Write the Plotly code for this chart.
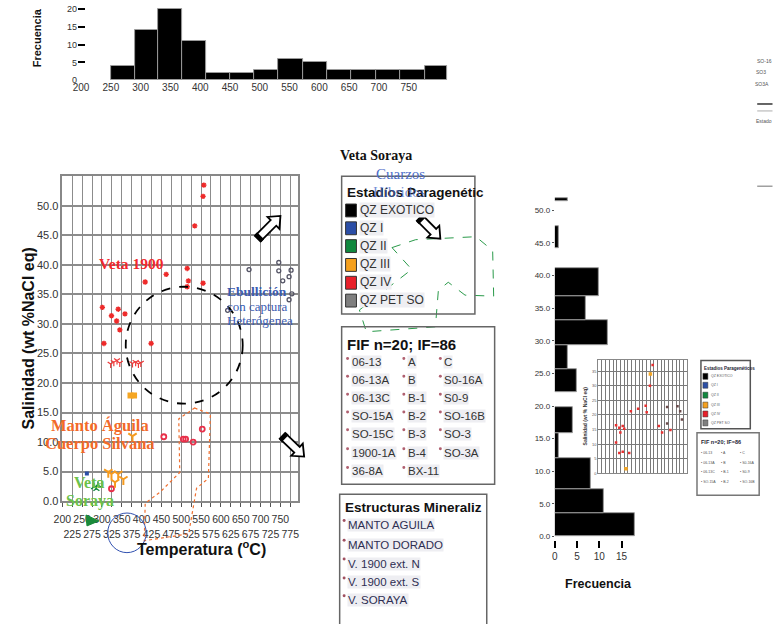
import math
import plotly.graph_objects as go

W, H = 774, 624


def px(x):
    return x / W


def py(y):
    return 1 - y / H


# ---------------- data ----------------
# top histogram (temperature)
temp_bin_edges = [250, 290, 330, 370, 410, 450, 490, 531, 572, 613, 654, 695, 736, 777, 815]
temp_freq = [4, 14, 20, 11, 2, 2, 3, 6, 5, 3, 3, 3, 3, 4]
temp_ticks = [200, 250, 300, 350, 400, 450, 500, 550, 600, 650, 700, 750]
freq_ticks_top = [0, 5, 10, 15, 20]

# right histogram (salinity)
sal_bin_lo = [0.0, 3.6, 7.3, 12.0, 15.9, 22.1, 25.7, 29.4, 33.2, 36.9, 44.2, 51.4]
sal_bin_hi = [3.6, 7.3, 12.0, 15.9, 19.8, 25.6, 29.4, 33.2, 36.9, 41.2, 47.6, 51.8]
sal_freq = [18, 11, 8, 1, 4, 5, 3, 12, 7, 10, 1, 3]
sal_ticks = [0, 5, 10, 15, 20, 25, 30, 35, 40, 45, 50]
freq_ticks_right = [0, 5, 10, 15]

# main scatter: temperature (C) vs salinity (wt% NaCl eq)
main_ticks_row1 = [200, 250, 300, 350, 400, 450, 500, 550, 600, 650, 700, 750]
main_ticks_row2 = [225, 275, 325, 375, 425, 475, 525, 575, 625, 675, 725, 775]

qz4_t = [557, 555, 534, 462, 515, 518, 515, 555, 409, 301, 341, 324, 358, 337, 345, 305, 424]
qz4_s = [53.5, 51.6, 46.6, 38.4, 39.4, 37.3, 36.3, 36.9, 37.1, 32.8, 32.5, 31.4, 31.7, 30.5, 29.0, 26.7, 26.7]
qz4y_t = [322, 330, 338, 345, 377, 385, 392, 398]
qz4y_s = [23.2, 23.5, 23.8, 23.4, 23.3, 23.5, 23.2, 23.4]
qz4c_t = [456, 505, 511, 530, 553, 324]
qz4c_s = [10.9, 10.5, 10.5, 10.0, 12.2, 2.1]
qz3sq_t = [372, 381]
qz3sq_s = [17.9, 17.9]
qz3_t = [377, 316, 324, 341, 333, 354]
qz3_s = [11.0, 4.9, 4.6, 4.6, 3.2, 3.7]
qz1_t = [262]
qz1_s = [4.7]
qz2_t = [280, 290, 286]
qz2_s = [2.4, 2.7, 2.1]
qzpet_t = [671, 746, 746, 777, 756, 772, 779, 772, 617]
qzpet_s = [39.2, 40.4, 39.0, 39.1, 37.3, 38.0, 35.1, 34.1, 32.3]

# small inset copy
inset_red_t = [320, 342, 365, 349, 375, 320, 342, 365, 409, 420, 469, 520, 527, 549, 567, 609, 631, 687]
inset_red_s = [16.5, 15.6, 16.2, 14.0, 15.3, 10.6, 7.0, 7.4, 7.0, 21.3, 22.1, 23.2, 20.9, 30.0, 37.1, 16.2, 14.0, 14.9]
inset_dark_t = [665, 735, 753, 765, 665]
inset_dark_s = [22.7, 23.0, 21.3, 18.5, 17.1]
inset_orange_t = [387, 552]
inset_orange_s = [1.6, 34.0]

stage_labels = ["QZ EXOTICO", "QZ I", "QZ II", "QZ III", "QZ IV", "QZ PET SO"]
stage_colors = ["#000000", "#2b4ea6", "#10883e", "#f5a01e", "#e8202a", "#7f7f7f"]
fif_col1 = ["06-13", "06-13A", "06-13C", "SO-15A", "SO-15C", "1900-1A", "36-8A"]
fif_col2 = ["A", "B", "B-1", "B-2", "B-3", "B-4", "BX-11"]
fif_col3 = ["C", "S0-16A", "S0-9", "SO-16B", "SO-3", "SO-3A"]
struct_labels = ["MANTO AGUILA", "MANTO DORADO", "V. 1900 ext. N", "V. 1900 ext. S", "V. SORAYA"]

SANS = "Liberation Sans, Arial, sans-serif"
NARROW = "Liberation Sans Narrow, Arial Narrow, Liberation Sans, sans-serif"
SERIF = "Liberation Serif, Times New Roman, serif"

fig = go.Figure()

# ---------------- traces ----------------
fig.add_trace(go.Bar(
    x=[(temp_bin_edges[i] + temp_bin_edges[i + 1]) / 2 for i in range(len(temp_freq))],
    y=temp_freq,
    width=[temp_bin_edges[i + 1] - temp_bin_edges[i] for i in range(len(temp_freq))],
    marker=dict(color="#000000", line=dict(color="#9a9a9a", width=1)),
    xaxis="x2", yaxis="y2", showlegend=False,
))

fig.add_trace(go.Bar(
    y=[(a + b) / 2 for a, b in zip(sal_bin_lo, sal_bin_hi)],
    x=sal_freq,
    width=[b - a for a, b in zip(sal_bin_lo, sal_bin_hi)],
    orientation="h",
    marker=dict(color="#000000", line=dict(color="#9a9a9a", width=1)),
    xaxis="x4", yaxis="y4", showlegend=False,
))

fig.add_trace(go.Scatter(x=qz4_t, y=qz4_s, mode="markers", xaxis="x", yaxis="y",
                         marker=dict(symbol="asterisk-open", size=4.5, color="#ee2a2a",
                                     line=dict(color="#ee2a2a", width=1.4)), showlegend=False))
fig.add_trace(go.Scatter(x=qz4y_t, y=qz4y_s, mode="markers", xaxis="x", yaxis="y",
                         marker=dict(symbol="y-down-open", size=5, color="#ee3a3a",
                                     line=dict(color="#ee3a3a", width=1.2)), showlegend=False))
fig.add_trace(go.Scatter(x=qz4c_t, y=qz4c_s, mode="markers", xaxis="x", yaxis="y",
                         marker=dict(symbol="circle-open", size=5, color="#e8304a",
                                     line=dict(color="#e8304a", width=1.8)), showlegend=False))
fig.add_trace(go.Scatter(x=qz3sq_t, y=qz3sq_s, mode="markers", xaxis="x", yaxis="y",
                         marker=dict(symbol="square", size=6, color="#f5a623"), showlegend=False))
fig.add_trace(go.Scatter(x=qz3_t, y=qz3_s, mode="markers", xaxis="x", yaxis="y",
                         marker=dict(symbol="y-down-open", size=7, color="#f59a1e",
                                     line=dict(color="#f59a1e", width=2)), showlegend=False))
fig.add_trace(go.Scatter(x=qz1_t, y=qz1_s, mode="markers", xaxis="x", yaxis="y",
                         marker=dict(symbol="square", size=4, color="#2b4ea6"), showlegend=False))
fig.add_trace(go.Scatter(x=qz2_t, y=qz2_s, mode="markers", xaxis="x", yaxis="y",
                         marker=dict(symbol="y-up-open", size=5, color="#10883e",
                                     line=dict(color="#10883e", width=1.4)), showlegend=False))
fig.add_trace(go.Scatter(x=qzpet_t, y=qzpet_s, mode="markers", xaxis="x", yaxis="y",
                         marker=dict(symbol="circle-open", size=4, color="#555566",
                                     line=dict(color="#555566", width=1.3)), showlegend=False))
fig.add_trace(go.Scatter(x=[None], y=[None], xaxis="x3", yaxis="y", showlegend=False, hoverinfo="skip"))

fig.add_trace(go.Scatter(x=inset_red_t, y=inset_red_s, mode="markers", xaxis="x5", yaxis="y5",
                         marker=dict(symbol="square", size=2.5, color="#e83030"), showlegend=False))
fig.add_trace(go.Scatter(x=inset_dark_t, y=inset_dark_s, mode="markers", xaxis="x5", yaxis="y5",
                         marker=dict(symbol="square", size=2.5, color="#6a4a4a"), showlegend=False))
fig.add_trace(go.Scatter(x=inset_orange_t, y=inset_orange_s, mode="markers", xaxis="x5", yaxis="y5",
                         marker=dict(symbol="square", size=3.5, color="#f5a623"), showlegend=False))

# ---------------- axes ----------------
grid_c = "#8c8c8c"
layout = dict(
    width=W, height=H, autosize=False,
    margin=dict(l=0, r=0, t=0, b=0),
    paper_bgcolor="white", plot_bgcolor="white",
    font=dict(family=SANS, color="#333"),
    showlegend=False,
    bargap=0,
    xaxis=dict(domain=[px(54), px(293)], range=[200, 795], anchor="y",
               tickvals=main_ticks_row1, ticktext=[str(v) for v in main_ticks_row1],
               tickfont=dict(size=10.5, color="#333"), tickangle=0, ticklabelstandoff=4,
               showgrid=True, gridcolor=grid_c, gridwidth=1.3,
               minor=dict(tickvals=main_ticks_row2, showgrid=True, gridcolor=grid_c, gridwidth=1.3,
                          ticks="outside", ticklen=4, tickcolor="#555"),
               ticks="outside", ticklen=4, tickcolor="#555",
               showline=True, mirror=True, linecolor="#888", linewidth=1.5, zeroline=False),
    xaxis3=dict(overlaying="x", anchor="y", side="bottom", range=[200, 795],
                tickvals=main_ticks_row2, ticktext=[str(v) for v in main_ticks_row2],
                tickfont=dict(size=10.5, color="#333"), tickangle=0, ticks="", showgrid=False,
                showline=False, zeroline=False, ticklabelstandoff=25),
    yaxis=dict(domain=[py(506), py(178)], range=[0, 55], anchor="x",
               tickvals=sal_ticks, tickformat=".1f", tickfont=dict(size=11, color="#333"),
               showgrid=True, gridcolor=grid_c, gridwidth=2,
               ticks="", showline=True, mirror=True, linecolor="#888", linewidth=1.5, zeroline=False),
    xaxis2=dict(domain=[px(70), px(450)], range=[195, 824.6], anchor="y2",
                tickvals=temp_ticks, tickfont=dict(size=10, color="#333"), tickangle=0,
                ticks="", showgrid=False, showline=False, zeroline=False),
    yaxis2=dict(domain=[py(81), 1.0], range=[0, 22.5], anchor="x2",
                tickvals=freq_ticks_top, tickfont=dict(size=9, color="#333"),
                ticks="inside", ticklen=7, tickwidth=2, tickcolor="#000",
                showgrid=False, showline=False, zeroline=False),
    xaxis4=dict(domain=[px(553), px(650)], range=[0, 21.55], anchor="y4",
                tickvals=freq_ticks_right, tickfont=dict(size=10, family=NARROW, color="#333"),
                ticks="outside", ticklen=7, tickwidth=2, tickcolor="#000", tickangle=0,
                showgrid=False, showline=False, zeroline=False),
    yaxis4=dict(domain=[py(545), py(190)], range=[-0.5, 53.4], anchor="x4",
                tickvals=sal_ticks, tickformat=".1f", tickfont=dict(size=8, family=NARROW, color="#333"),
                ticks="outside", ticklen=2, tickcolor="#555",
                showgrid=False, showline=False, zeroline=False),
    xaxis5=dict(domain=[px(597), px(687)], range=[200, 800], anchor="y5",
                dtick=25, tick0=200, showticklabels=False, ticks="",
                showgrid=True, gridcolor="#7a7a7a", gridwidth=1,
                showline=True, mirror=True, linecolor="#888", linewidth=1, zeroline=False),
    yaxis5=dict(domain=[py(478), py(363)], range=[0, 39], anchor="x5",
                dtick=5, tick0=0, tickfont=dict(size=4, color="#555"), ticks="",
                showgrid=True, gridcolor="#7a7a7a", gridwidth=1.2,
                showline=True, mirror=True, linecolor="#888", linewidth=1, zeroline=False),
)
fig.update_layout(**layout)

# ---------------- shapes ----------------
shapes = []


def path_px(points, close=True):
    s = "M " + " L ".join(f"{px(x):.5f},{py(y):.5f}" for x, y in points)
    return s + (" Z" if close else "")


def add_rect(x0, y0, x1, y1, line="#666", width=1.5, fill=None):
    shapes.append(dict(type="rect", xref="paper", yref="paper", x0=px(x0), x1=px(x1),
                       y0=py(y1), y1=py(y0), line=dict(color=line, width=width),
                       fillcolor=fill if fill else "rgba(0,0,0,0)", layer="above"))


def add_arrow(x0, y0, x1, y1, w=4.0, hw=8.5, hl=10):
    dx, dy = x1 - x0, y1 - y0
    L = math.hypot(dx, dy)
    ux, uy = dx / L, dy / L
    nx, ny = -uy, ux
    kx, ky = x1 - ux * hl, y1 - uy * hl
    pts = [(x0 + nx * w, y0 + ny * w), (kx + nx * w, ky + ny * w), (kx + nx * hw, ky + ny * hw),
           (x1, y1), (kx - nx * hw, ky - ny * hw), (kx - nx * w, ky - ny * w), (x0 - nx * w, y0 - ny * w)]
    shapes.append(dict(type="path", xref="paper", yref="paper", path=path_px(pts),
                       fillcolor="white", line=dict(color="#000", width=1.8), layer="above"))
    cx, cy = x0 + ux * 2, y0 + uy * 2
    shapes.append(dict(type="path", xref="paper", yref="paper",
                       path=path_px([(cx + nx * (w + 1), cy + ny * (w + 1)), (cx - nx * (w + 1), cy - ny * (w + 1))], close=False),
                       line=dict(color="#000", width=4), layer="above"))


shapes.append(dict(type="circle", xref="x", yref="y", x0=360, x1=655, y0=16.5, y1=36.3,
                   line=dict(color="#000", width=1.8, dash="dash"), layer="above"))
shapes.append(dict(type="path", xref="paper", yref="paper",
                   path=path_px([(188, 412), (204, 418), (202, 483), (190, 493), (182, 539), (137, 546),
                                 (138, 508), (153, 497), (173, 477), (172, 423)]),
                   line=dict(color="#f07030", width=1.2, dash="dot"), layer="above"))
shapes.append(dict(type="path", xref="paper", yref="paper",
                   path=path_px([(388, 250), (412, 242), (473, 239), (490, 253), (491, 299), (462, 298),
                                 (445, 285), (435, 293), (432, 330), (362, 335), (355, 313), (408, 272)]),
                   line=dict(color="#2a9a4a", width=1, dash="dash"), layer="above"))
shapes.append(dict(type="circle", xref="paper", yref="paper", x0=px(100), x1=px(139), y0=py(558), y1=py(518),
                   line=dict(color="#3050b0", width=1), layer="above"))
shapes.append(dict(type="path", xref="paper", yref="paper",
                   path=path_px([(78, 520), (91, 526), (79, 531)]), fillcolor="#1a8a3a",
                   line=dict(color="#1a8a3a", width=1), layer="above"))

add_arrow(252, 241, 275, 218)
add_arrow(277, 440, 299, 461)
add_arrow(416, 220, 437, 241)

add_rect(337, 178, 472, 317)
add_rect(337, 330, 492, 489)
add_rect(335, 499, 484, 632)
add_rect(701, 364, 751, 433, line="#555", width=1.5)
add_rect(697, 437, 760, 500, line="#777", width=1.5)
for yy, col, wd in [(105, "#333", 1.5), (112, "#bbb", 1.2), (188, "#888", 1.2)]:
    shapes.append(dict(type="line", xref="paper", yref="paper", x0=px(758), x1=px(773.5), y0=py(yy), y1=py(yy),
                       line=dict(color=col, width=wd), layer="above"))

annotations = []


def ann(text, x, y, size=12, color="#333", family=SANS, xanchor="left", angle=0, bold=False, bg=None):
    a = dict(text=f"<b>{text}</b>" if bold else text, x=px(x), y=py(y), xref="paper", yref="paper",
             showarrow=False, xanchor=xanchor, yanchor="middle", textangle=angle,
             font=dict(size=size, color=color, family=family), borderpad=0)
    if bg:
        a["bgcolor"] = bg
    annotations.append(a)


ann("Estadíos Paragenétic", 341, 194, size=13.5, color="#111", bold=True)
rows1 = [212, 230, 248, 267, 285, 303]
for lab, col, r in zip(stage_labels, stage_colors, rows1):
    shapes.append(dict(type="rect", xref="paper", yref="paper", x0=px(341), x1=px(352), y0=py(r + 7), y1=py(r - 6),
                       fillcolor=col, line=dict(color="#333", width=1), layer="above"))
    ann(lab, 355, r, size=12, color="#333", bg="#eeeef2")

ann("FIF n=20; IF=86", 341, 348, size=15, color="#111", bold=True)
rows2 = [366, 384, 402, 420, 438, 457, 476]
for cx, labels in [(343, fif_col1), (400, fif_col2), (437, fif_col3)]:
    for lab, r in zip(labels, rows2):
        shapes.append(dict(type="circle", xref="paper", yref="paper", x0=px(cx - 1.5), x1=px(cx + 1.5),
                           y0=py(r - 2.5), y1=py(r - 5.5), fillcolor="#b06070", line=dict(width=0), layer="above"))
        ann(lab, cx + 3, r, size=11.5, color="#333", bg="#eeeef2")

ann("Estructuras Mineraliz", 339, 512, size=13.5, color="#111", bold=True)
rows3 = [530, 550, 569, 588, 606]
for lab, r in zip(struct_labels, rows3):
    shapes.append(dict(type="circle", xref="paper", yref="paper", x0=px(338), x1=px(341),
                       y0=py(r - 3), y1=py(r - 6), fillcolor="#a05060", line=dict(width=0), layer="above"))
    ann(lab, 342, r, size=11.5, color="#2e2e52", bg="#eeeef2")

ann("Estadios Paragenéticos", 703, 372, size=4.5, color="#223", bold=True)
rowsm = [380, 389, 399, 409, 418, 427]
for lab, col, r in zip(stage_labels, stage_colors, rowsm):
    shapes.append(dict(type="rect", xref="paper", yref="paper", x0=px(703), x1=px(708), y0=py(r + 3), y1=py(r - 3),
                       fillcolor=col, line=dict(color="#333", width=0.5), layer="above"))
    ann(lab, 710, r, size=3.5, color="#555")
ann("FIF n=20; IF=86", 700, 446, size=5.5, color="#223", bold=True)
for cx, labels in [(700, fif_col1[:4]), (720, fif_col2[:4]), (740, fif_col3[:4])]:
    for lab, r in zip(labels, [457, 467, 477, 487]):
        ann("• " + lab, cx, r, size=3.5, color="#555")

ann("SO-16", 773.5, 62, size=5, color="#555", xanchor="right")
ann("SO3", 768, 73, size=5, color="#555", xanchor="right")
ann("SO3A", 771, 85, size=5, color="#555", xanchor="right")
ann("Estado", 773.5, 122, size=5, color="#555", xanchor="right")

ann("Veta 1900", 124, 266, size=15.5, color="#f2282c", family=SERIF, xanchor="center", bold=True)
ann("Ebullición", 220, 294, size=13.5, color="#3b5bb0", family=SERIF, bold=True)
ann("con captura", 220, 309, size=13, color="#3b5bb0", family=SERIF)
ann("Heterógenea", 220, 324, size=13, color="#3b5bb0", family=SERIF)
ann("Manto Águila", 42, 430, size=16.5, color="#f26a2a", family=SERIF, bold=True)
ann("Cuerpo Silvana", 35, 448, size=16.5, color="#f26a2a", family=SERIF, bold=True)
ann("Veta", 65, 487, size=16, color="#6cc24a", family=SERIF, bold=True)
ann("Soraya", 57, 506, size=16, color="#6cc24a", family=SERIF, bold=True)
ann("Veta Soraya", 372, 157, size=14, color="#111", family=SERIF, xanchor="center", bold=True)
ann("Cuarzos", 397, 176, size=15, color="#4a6cc8", family=SERIF, xanchor="center")
ann("Híbridos", 396, 194, size=15, color="rgba(74,108,200,0.75)", family=SERIF, xanchor="center")

ann("Salinidad (wt %NaCl eq)", 20, 342, size=16, color="#111", xanchor="center", angle=-90, bold=True)
ann("Temperatura (<sup>o</sup>C)", 195, 553, size=16, color="#111", xanchor="center", bold=True)
ann("Frecuencia", 28, 38, size=11, color="#111", family=NARROW, xanchor="center", angle=-90, bold=True)
ann("Frecuencia", 597, 590, size=12.5, color="#111", family=NARROW, xanchor="center", bold=True)
ann("Salinidad (wt % NaCl eq)", 584, 420, size=5, color="#333", xanchor="center", angle=-90, bold=True)

fig.update_layout(shapes=shapes, annotations=annotations)
post = (
    "document.documentElement.style.margin='0px';"
    "document.body.style.margin='0px';document.body.style.padding='0px';"
    "document.body.style.overflow='hidden';"
    "var gd=document.querySelector('.plotly-graph-div');"
    "if(gd){gd.style.position='absolute';gd.style.left='0px';gd.style.top='0px';}"
)
fig.write_html("out.html", config={"displayModeBar": False}, post_script=post)
